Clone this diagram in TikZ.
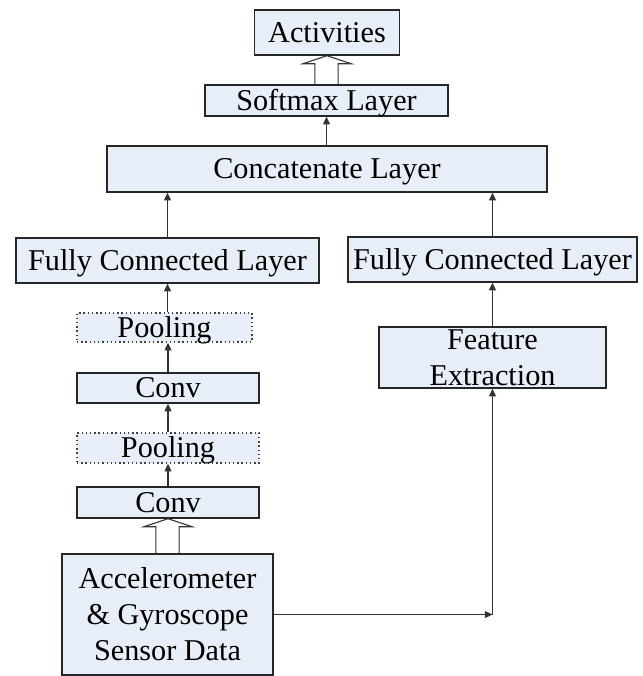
\documentclass[tikz,border=0pt]{standalone}
\usepackage{fontspec}
\setmainfont{Liberation Serif}
\usepackage{xcolor}
\usetikzlibrary{arrows.meta, positioning, calc}
\definecolor{boxfill}{RGB}{232,238,248}
\newcommand{\hollowarrow}[2]{%
  \draw[draw=black!80, line width=0.8pt] ($(#1.north)+(-0.29,0)$) |- ($(#2.south)+(-0.6,-0.2)$) -- (#2.south) -- ($(#2.south)+(0.6,-0.2)$) -| ($(#1.north)+(0.29,0)$);}

\begin{document}
\begin{tikzpicture}[
  box/.style={rectangle, draw=black!85, line width=1pt, fill=boxfill, inner sep=0pt, align=center, font=\fontsize{21.5}{25.5}\selectfont},
  line/.style={box, text height=14pt, text depth=0pt},
  pool/.style={line, draw=black!75, dotted},
  arrow/.style={draw=black!80, line width=0.8pt, -{Triangle[length=5.5pt,width=5pt]}}
]
  \useasboundingbox (0,0) rectangle (16.05,-16.9);
  \node[line, minimum width=3.625cm, minimum height=1.125cm] (A) at (8.175,-0.8125) {Activities};
  \node[line, minimum width=6.075cm, minimum height=0.775cm] (B) at (8.1625,-2.5125) {Softmax Layer};
  \node[line, minimum width=11cm, minimum height=1.15cm] (C) at (8.175,-4.225) {Concatenate Layer};
  \node[line, minimum width=7.575cm, minimum height=1.125cm] (D) at (4.1875,-6.5125) {Fully Connected Layer};
  \node[line, minimum width=7.225cm, minimum height=1.125cm] (E) at (12.3125,-6.4875) {Fully Connected Layer};
  \node[box, minimum width=5.675cm, minimum height=1.525cm] (F) at (12.3125,-8.9375) {Feature\\Extraction};
  \node[pool, minimum width=4.375cm, minimum height=0.725cm] (G) at (4.1125,-8.1875) {Pooling};
  \node[line, minimum width=4.55cm, minimum height=0.75cm] (H) at (4.2,-9.7) {Conv};
  \node[pool, minimum width=4.55cm, minimum height=0.75cm] (I) at (4.2,-11.2) {Pooling};
  \node[line, minimum width=4.55cm, minimum height=0.775cm] (J) at (4.2,-12.5625) {Conv};
  \node[box, minimum width=5.275cm, minimum height=3.025cm] (K) at (4.1875,-15.3625) {Accelerometer\\\& Gyroscope\\Sensor Data};
  \coordinate (T) at (F.south |- K.east);
  \hollowarrow{B}{A}
  \draw[arrow] (B.south |- C.north) -- (B.south);
  \draw[arrow] (D.north) -- (D.north |- C.south);
  \draw[arrow] (E.north) -- (E.north |- C.south);
  \draw[arrow] (D.south |- G.north) -- (D.south);
  \draw[arrow] (H.north) -- (H.north |- G.south);
  \draw[arrow] (I.north) -- (H.south);
  \draw[arrow] (J.north) -- (I.south);
  \hollowarrow{K}{J}
  \draw[arrow] (K.east) -- (T);
  \draw[arrow] (T) -- (F.south);
  \draw[arrow] (F.north) -- (E.south);
\end{tikzpicture}
\end{document}
